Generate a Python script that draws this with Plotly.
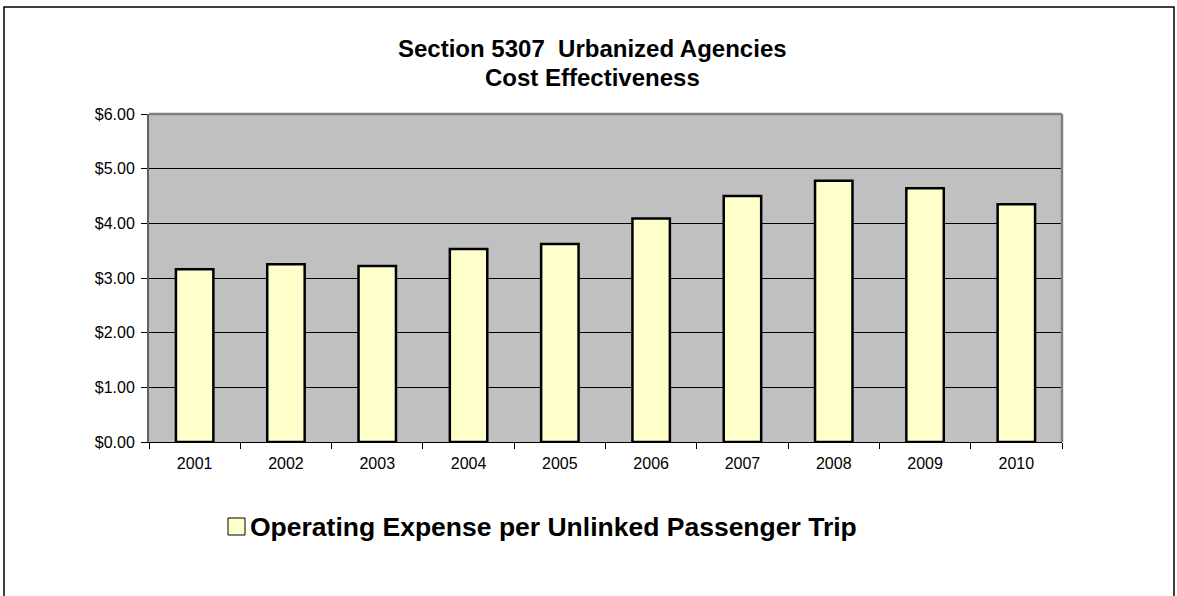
import plotly.graph_objects as go

years = ["2001", "2002", "2003", "2004", "2005", "2006", "2007", "2008", "2009", "2010"]
cost_per_trip = [3.16, 3.25, 3.22, 3.53, 3.62, 4.09, 4.50, 4.78, 4.64, 4.35]
series_name = "Operating Expense per Unlinked Passenger Trip"
title_lines = ["Section 5307\u00a0 Urbanized Agencies", "Cost Effectiveness"]
y_ticks = [0, 1, 2, 3, 4, 5, 6]

W, H = 1177, 596
L, R, T, B = 149, 1062, 114, 442
FONT = "Liberation Sans, Arial, sans-serif"

fig = go.Figure()
fig.add_trace(go.Bar(
    x=years, y=cost_per_trip, name=series_name,
    marker=dict(color="#FFFFCC", line=dict(color="#000000", width=2.5)),
    showlegend=False,
))

def px_x(px):
    return (px - L) / (R - L)

def px_y(py):
    return (B - py) / (B - T)

shapes = [
    # outer chart border
    dict(type="rect", xref="paper", yref="paper",
         x0=px_x(4), x1=px_x(1174), y0=px_y(620), y1=px_y(7),
         line=dict(color="#000000", width=1.5), fillcolor="rgba(0,0,0,0)", layer="below"),
    # plot area top/right gray border
    dict(type="line", xref="paper", yref="paper", x0=0, x1=1, y0=1, y1=1,
         line=dict(color="#808080", width=2.5)),
    dict(type="line", xref="paper", yref="paper", x0=1, x1=1, y0=0, y1=1,
         line=dict(color="#808080", width=2.5)),
    # legend swatch
    dict(type="rect", xref="paper", yref="paper",
         x0=px_x(228), x1=px_x(245), y0=px_y(535), y1=px_y(518),
         line=dict(color="#000000", width=1), fillcolor="#FFFFCC"),
]

annotations = [
    dict(text="<b>" + title_lines[0] + "</b>", xref="paper", yref="paper",
         x=px_x(592), y=px_y(49), xanchor="center", yanchor="middle", showarrow=False,
         font=dict(family=FONT, size=24, color="#000000")),
    dict(text="<b>" + title_lines[1] + "</b>", xref="paper", yref="paper",
         x=px_x(592), y=px_y(78), xanchor="center", yanchor="middle", showarrow=False,
         font=dict(family=FONT, size=24, color="#000000")),
    dict(text="<b>" + series_name + "</b>", xref="paper", yref="paper",
         x=px_x(248), y=px_y(527), xanchor="left", yanchor="middle", showarrow=False,
         font=dict(family=FONT, size=26.5, color="#000000")),
]

fig.update_layout(
    width=W, height=H,
    margin=dict(l=L, r=W - R, t=T, b=H - B, pad=0),
    paper_bgcolor="#FFFFFF",
    plot_bgcolor="#C0C0C0",
    bargap=0.59,
    font=dict(family=FONT, size=16, color="#000000"),
    xaxis=dict(
        showgrid=False, showline=True, linecolor="#000000", linewidth=1,
        ticks="outside", tickson="boundaries", ticklen=6, tickcolor="#000000",
        ticklabelstandoff=7,
        tickfont=dict(size=16), zeroline=False, fixedrange=True,
    ),
    yaxis=dict(
        range=[0, 6], tickvals=y_ticks, tickformat="$.2f",
        showgrid=True, gridcolor="#000000", gridwidth=1,
        showline=True, linecolor="#606060", linewidth=2,
        ticks="outside", ticklen=6, tickcolor="#000000",
        ticklabelstandoff=3,
        tickfont=dict(size=16), zeroline=False, fixedrange=True,
    ),
    shapes=shapes,
    annotations=annotations,
)

fig.write_html("out.html", config={"displayModeBar": False},
               post_script="document.body.style.margin='0';")
